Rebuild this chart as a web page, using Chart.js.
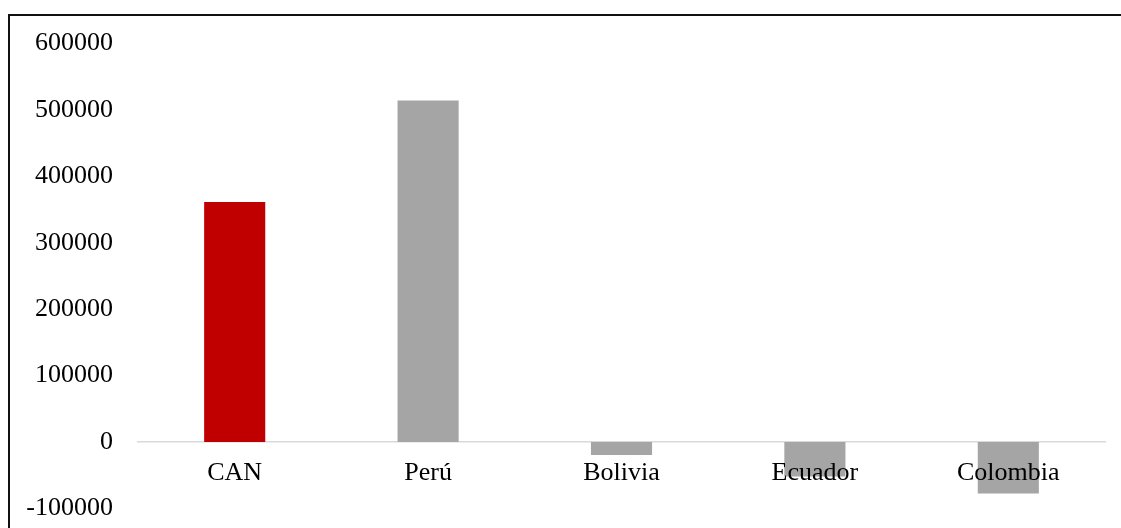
<!DOCTYPE html>
<html>
<head>
<meta charset="utf-8">
<script src="https://cdn.jsdelivr.net/npm/chart.js@4"></script>
<style>
  html, body { margin: 0; padding: 0; background: #fff; }
  #wrap { position: relative; width: 1121px; height: 528px; overflow: hidden; }
  #frame {
    position: absolute; left: 8px; top: 14px; width: 1200px; height: 600px;
    border-left: 2px solid #111; border-top: 2px solid #111; box-sizing: border-box;
  }
  #chart { position: absolute; left: 0; top: 0; }
</style>
</head>
<body>
<div id="wrap">
  <div id="frame"></div>
  <!-- el lienzo sobresale por abajo; el marco lo recorta -->
  <canvas id="chart" width="1121" height="549"></canvas>
</div>
<script>
const paises = ["CAN", "Perú", "Bolivia", "Ecuador", "Colombia"];
const valores = [361500, 514000, -19500, -52000, -77500];
const colores = ["#c00000", "#a5a5a5", "#a5a5a5", "#a5a5a5", "#a5a5a5"];
const ejeY = { min: -100000, max: 600000, paso: 100000 };

const fuente = { family: "'Liberation Serif', 'Times New Roman', serif", size: 26 };

new Chart(document.getElementById("chart"), {
  type: "bar",
  data: {
    labels: paises,
    datasets: [
      {
        data: valores,
        backgroundColor: colores,
        borderWidth: 0,
        categoryPercentage: 1,
        barPercentage: 0.316,
      },
    ],
  },
  options: {
    responsive: false,
    animation: false,
    layout: { padding: { top: 43.5, right: 16, bottom: 8, left: 0 } },
    plugins: {
      legend: { display: false },
      tooltip: { enabled: false },
    },
    scales: {
      x: {
        position: { y: 0 },
        grid: { display: false, drawTicks: false },
        border: { display: true, color: "#d9d9d9", width: 1.5 },
        ticks: { color: "#000", font: fuente, padding: 16, z: 1, maxRotation: 0 },
      },
      y: {
        min: ejeY.min,
        max: ejeY.max,
        grid: { display: false, drawTicks: false },
        border: { display: false },
        ticks: {
          stepSize: ejeY.paso,
          color: "#000",
          font: fuente,
          padding: 25,
          callback: (v) => String(v),
        },
        afterFit: (scale) => {
          scale.width = 138;
        },
      },
    },
  },
});
</script>
</body>
</html>
